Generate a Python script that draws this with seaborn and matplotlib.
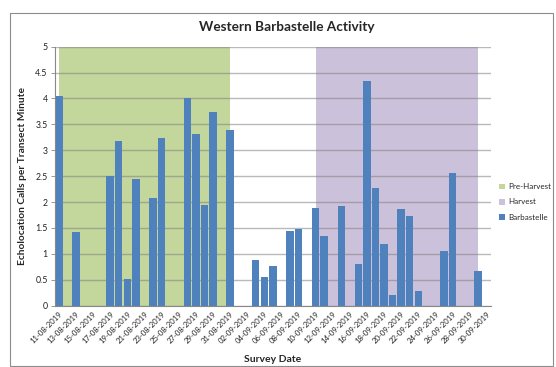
import numpy as np
import pandas as pd
import matplotlib
matplotlib.use("Agg")
import matplotlib.pyplot as plt
from matplotlib.patches import Patch, Rectangle
import seaborn as sns

# Survey dates (daily, 11 Aug - 30 Sep 2019)
dates = pd.date_range("2019-08-11", "2019-09-30", freq="D").strftime("%d-%m-%Y").tolist()

# Echolocation calls per transect minute (0 = no calls recorded)
barbastelle = [
    4.04, 0, 1.42, 0, 0, 0, 2.50, 3.17, 0.51, 2.45,
    0, 2.07, 3.24, 0, 0, 4.00, 3.31, 1.94, 3.73, 0,
    3.40, 0, 0, 0.88, 0.56, 0.77, 0, 1.45, 1.49, 0,
    1.88, 1.35, 0, 1.92, 0, 0.80, 4.34, 2.27, 1.20, 0.20,
    1.87, 1.73, 0.29, 0, 0, 1.06, 2.57, 0, 0, 0.67,
    0,
]

# Period bands (value 5 across the survey period, blank elsewhere)
pre_harvest = [5 if i <= 20 else np.nan for i in range(len(dates))]
harvest = [5 if 30 <= i <= 49 else np.nan for i in range(len(dates))]

BLUE = "#4F81BD"
GREEN = "#C3D69B"
PURPLE = "#CCC1DA"

sns.set_theme(style="white")
plt.rcParams["font.family"] = ["Lato", "DejaVu Sans"]

fig = plt.figure(figsize=(5.56, 3.67), dpi=100)
ax = fig.add_axes([54.6 / 556, 1 - 305.7 / 367, (491 - 54.6) / 556, (305.7 - 46.7) / 367])

df = pd.DataFrame({"date": dates, "calls": barbastelle})
sns.barplot(data=df, x="date", y="calls", color=BLUE, saturation=1,
            width=0.87, linewidth=0, errorbar=None, ax=ax, zorder=3)

xpos = np.arange(len(dates))
ax.fill_between(xpos, 0, pre_harvest, color=GREEN, linewidth=0, zorder=0)
ax.fill_between(xpos, 0, harvest, color=PURPLE, linewidth=0, zorder=0)

ax.set_xlim(-0.5, len(dates) - 0.5)
ax.set_ylim(0, 5)
ax.set_yticks(np.arange(0, 5.01, 0.5))
ax.set_yticklabels(["0", "0.5", "1", "1.5", "2", "2.5", "3", "3.5", "4", "4.5", "5"])
ax.yaxis.grid(True, color="#808080", linewidth=1.0, alpha=0.55, zorder=1)
ax.set_axisbelow(False)
for gl in ax.get_ygridlines():
    gl.set_zorder(1)

ax.set_xticks(xpos[::2])
ax.set_xticklabels(dates[::2], rotation=45, ha="right", rotation_mode="anchor",
                   fontsize=5.6, color="#222222")
ax.tick_params(axis="y", labelsize=6.3, colors="#222222", length=3, width=0.6,
               direction="out", left=True, color="#888888", pad=2)
ax.tick_params(axis="x", length=0, pad=3)

for side in ["top", "right"]:
    ax.spines[side].set_visible(False)
for side in ["left", "bottom"]:
    ax.spines[side].set_color("#888888")
    ax.spines[side].set_linewidth(0.8)
    ax.spines[side].set_zorder(4)

ax.set_xlabel("Survey Date", fontsize=7.5, fontweight="bold", labelpad=2)
ax.set_ylabel("Echolocation Calls per Transect Minute", fontsize=7.3,
              fontweight="bold", labelpad=6)
ax.xaxis.set_label_coords(0.5, -0.19)

fig.text(287 / 556, 1 - 27 / 367, "Western Barbastelle Activity",
         ha="center", va="center", fontsize=9.8, fontweight="bold")

handles = [Patch(facecolor=GREEN, edgecolor="none", label="Pre-Harvest"),
           Patch(facecolor=PURPLE, edgecolor="none", label="Harvest"),
           Patch(facecolor=BLUE, edgecolor="none", label="Barbastelle")]
fig.legend(handles=handles, loc="center left", bbox_to_anchor=(495 / 556, 1 - 202 / 367),
           frameon=False, fontsize=5.8, handlelength=0.7, handleheight=0.7,
           handletextpad=0.4, labelspacing=1.0, borderpad=0)

# chart area border
fig.patches.append(Rectangle((10 / 556, 1 / 367), 543 / 556, (366 - 13) / 367,
                             transform=fig.transFigure, fill=False,
                             edgecolor="#8C8C8C", linewidth=0.8))

fig.savefig("out.png", dpi=100)
